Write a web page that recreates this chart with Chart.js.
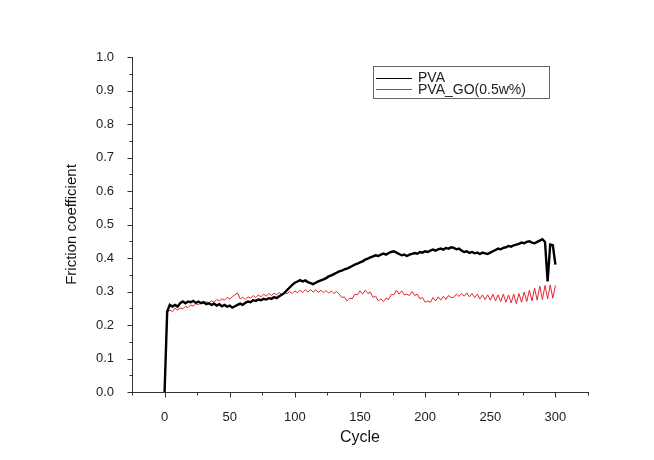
<!DOCTYPE html>
<html>
<head>
<meta charset="utf-8">
<script src="https://cdn.jsdelivr.net/npm/chart.js@4/dist/chart.umd.min.js"></script>
<style>
html,body{margin:0;padding:0;background:#fff;}
#wrap{width:654px;height:460px;position:relative;}
</style>
</head>
<body>
<div id="wrap"><canvas id="c" width="654" height="460"></canvas></div>
<script>
const seriesNames = ["PVA", "PVA_GO(0.5w%)"];
const cycles = [0,2,4,6,8,10,12,14,16,18,20,22,24,26,28,30,32,34,36,38,40,42,44,46,48,50,52,54,56,58,60,62,64,66,68,70,72,74,76,78,80,82,84,86,88,90,92,94,96,98,100,102,104,106,108,110,112,114,116,118,120,122,124,126,128,130,132,134,136,138,140,142,144,146,148,150,152,154,156,158,160,162,164,166,168,170,172,174,176,178,180,182,184,186,188,190,192,194,196,198,200,202,204,206,208,210,212,214,216,218,220,222,224,226,228,230,232,234,236,238,240,242,244,246,248,250,252,254,256,258,260,262,264,266,268,270,272,274,276,278,280,282,284,286,288,290,292,294,296,298,300];
const pvaValues = [0.00,0.24,0.26,0.255,0.26,0.255,0.265,0.27,0.265,0.27,0.268,0.272,0.266,0.27,0.265,0.268,0.262,0.265,0.26,0.264,0.258,0.262,0.256,0.26,0.255,0.258,0.252,0.256,0.26,0.264,0.26,0.266,0.27,0.268,0.274,0.272,0.276,0.274,0.278,0.276,0.28,0.278,0.283,0.28,0.286,0.29,0.296,0.304,0.312,0.32,0.326,0.33,0.334,0.33,0.333,0.328,0.325,0.322,0.326,0.33,0.333,0.336,0.34,0.345,0.348,0.352,0.356,0.36,0.362,0.366,0.368,0.372,0.376,0.38,0.383,0.387,0.39,0.395,0.398,0.402,0.405,0.408,0.406,0.41,0.413,0.41,0.415,0.418,0.42,0.416,0.412,0.408,0.41,0.406,0.41,0.412,0.415,0.413,0.418,0.416,0.42,0.418,0.422,0.425,0.422,0.426,0.428,0.425,0.43,0.428,0.432,0.43,0.426,0.428,0.422,0.418,0.42,0.415,0.418,0.414,0.416,0.412,0.416,0.414,0.412,0.416,0.42,0.424,0.428,0.426,0.43,0.432,0.436,0.434,0.438,0.44,0.442,0.446,0.444,0.448,0.45,0.446,0.444,0.448,0.452,0.456,0.448,0.33,0.44,0.438,0.38];
const pvaGoValues = [0.00,0.235,0.245,0.24,0.25,0.245,0.25,0.248,0.256,0.252,
  0.26,0.256,0.264,0.26,0.268,0.264,0.27,0.266,0.272,0.268,
  0.276,0.272,0.278,0.274,0.282,0.278,0.284,0.29,0.296,0.278,
  0.283,0.276,0.284,0.28,0.288,0.282,0.29,0.284,0.292,0.286,
  0.294,0.288,0.295,0.29,0.297,0.291,0.298,0.293,0.3,0.294,
  0.302,0.296,0.304,0.297,0.305,0.298,0.306,0.298,0.305,0.297,
  0.304,0.296,0.303,0.295,0.302,0.294,0.3,
  0.292,0.282,0.284,0.272,0.28,0.278,0.292,0.29,0.302,0.292,
  0.304,0.294,0.298,0.282,0.286,0.272,0.278,0.27,0.28,0.276,
  0.292,0.29,0.304,0.292,0.302,0.29,0.292,0.288,0.3,0.288,
  0.292,0.278,0.282,0.268,0.272,0.268,0.282,0.272,0.284,0.274,
  0.286,0.276,0.288,0.282,
  0.282,0.292,0.285,0.294,0.286,0.296,0.284,0.294,0.282,0.292,
  0.278,0.29,0.276,0.29,0.274,0.292,0.272,0.29,0.27,0.292,
  0.268,0.29,0.266,0.292,0.264,0.294,0.268,0.298,0.27,0.304,
  0.272,0.31,0.274,0.316,0.276,0.318,0.278,0.32,0.28,0.318];
const xTickValues = [-25,0,25,50,75,100,125,150,175,200,225,250,275,300,325];
const yTickValues = [0,0.05,0.1,0.15,0.2,0.25,0.3,0.35,0.4,0.45,0.5,0.55,0.6,0.65,0.7,0.75,0.8,0.85,0.9,0.95,1.0];

const toPts = (vals) => cycles.map((c, i) => ({x: c, y: vals[i]}));

const FONT = "'Liberation Sans', Arial, sans-serif";
const AXIS = '#333333';

const tickPlugin = {
  id: 'minorTicks',
  afterDraw(chart) {
    const ctx = chart.ctx;
    const xs = chart.scales.x, ys = chart.scales.y;
    ctx.save();
    ctx.strokeStyle = AXIS;
    ctx.lineWidth = 1;
    const yAxisPx = Math.round(ys.right) + 0.5;
    const xAxisPx = Math.round(ys.bottom) + 0.5;
    xTickValues.forEach(v => {
      const px = Math.round(xs.getPixelForValue(v)) + 0.5;
      const len = (v % 50 === 0) ? 5 : 3;
      ctx.beginPath(); ctx.moveTo(px, xAxisPx); ctx.lineTo(px, xAxisPx + len); ctx.stroke();
    });
    yTickValues.forEach(v => {
      const py = Math.round(ys.getPixelForValue(v)) + 0.5;
      const major = Math.round(v * 100) % 10 === 0;
      const len = major ? 5 : 3;
      ctx.beginPath(); ctx.moveTo(yAxisPx, py); ctx.lineTo(yAxisPx - len, py); ctx.stroke();
    });
    // legend box
    const lx = 373.5, ly = 66.5, lw = 176, lh = 32;
    ctx.strokeStyle = '#666';
    ctx.strokeRect(lx, ly, lw, lh);
    ctx.font = '14px ' + FONT;
    ctx.textBaseline = 'middle';
    ctx.fillStyle = '#222';
    chart.data.datasets.forEach((ds, i) => {
      const y = 77.5 + i * 11.5;
      ctx.strokeStyle = ds.borderColor;
      ctx.lineWidth = 1;
      ctx.beginPath(); ctx.moveTo(376, Math.round(y) + 0.5); ctx.lineTo(412, Math.round(y) + 0.5); ctx.stroke();
      ctx.fillText(ds.label, 418, y + 1);
    });
    ctx.restore();
  }
};

new Chart(document.getElementById('c'), {
  type: 'line',
  data: {
    datasets: [
      {label: seriesNames[0], data: toPts(pvaValues), borderColor: '#000000', borderWidth: 2.4, pointRadius: 0, tension: 0, fill: false},
      {label: seriesNames[1], data: toPts(pvaGoValues), borderColor: '#e3262e', borderWidth: 1, pointRadius: 0, tension: 0, fill: false}
    ]
  },
  options: {
    responsive: false,
    animation: false,
    layout: {padding: {left: 0, top: 57, right: 66, bottom: 0}},
    plugins: {legend: {display: false}, tooltip: {enabled: false}},
    scales: {
      x: {
        type: 'linear', min: -25, max: 325,
        afterBuildTicks: (s) => { s.ticks = xTickValues.map(v => ({value: v})); },
        afterFit: (s) => { s.height = 68; },
        grid: {display: false},
        border: {display: true, color: AXIS, width: 1},
        ticks: {autoSkip: false, maxRotation: 0, padding: 10, color: '#222', font: {family: FONT, size: 13},
          callback: (v) => (v % 50 === 0 && v >= 0 && v <= 300) ? String(v) : ''},
        title: {display: true, text: 'Cycle', color: '#111', font: {family: FONT, size: 16}, padding: {top: 0, bottom: 13}}
      },
      y: {
        type: 'linear', min: 0, max: 1,
        afterBuildTicks: (s) => { s.ticks = yTickValues.map(v => ({value: v})); },
        afterFit: (s) => { s.width = 132; },
        grid: {display: false},
        border: {display: true, color: AXIS, width: 1},
        ticks: {autoSkip: false, padding: 10, color: '#222', font: {family: FONT, size: 13},
          callback: (v) => (Math.round(v * 100) % 10 === 0) ? v.toFixed(1) : ''},
        title: {display: true, text: 'Friction coefficient', color: '#111', font: {family: FONT, size: 15}, padding: {top: 63, bottom: 0}}
      }
    }
  },
  plugins: [tickPlugin]
});
</script>
</body>
</html>
